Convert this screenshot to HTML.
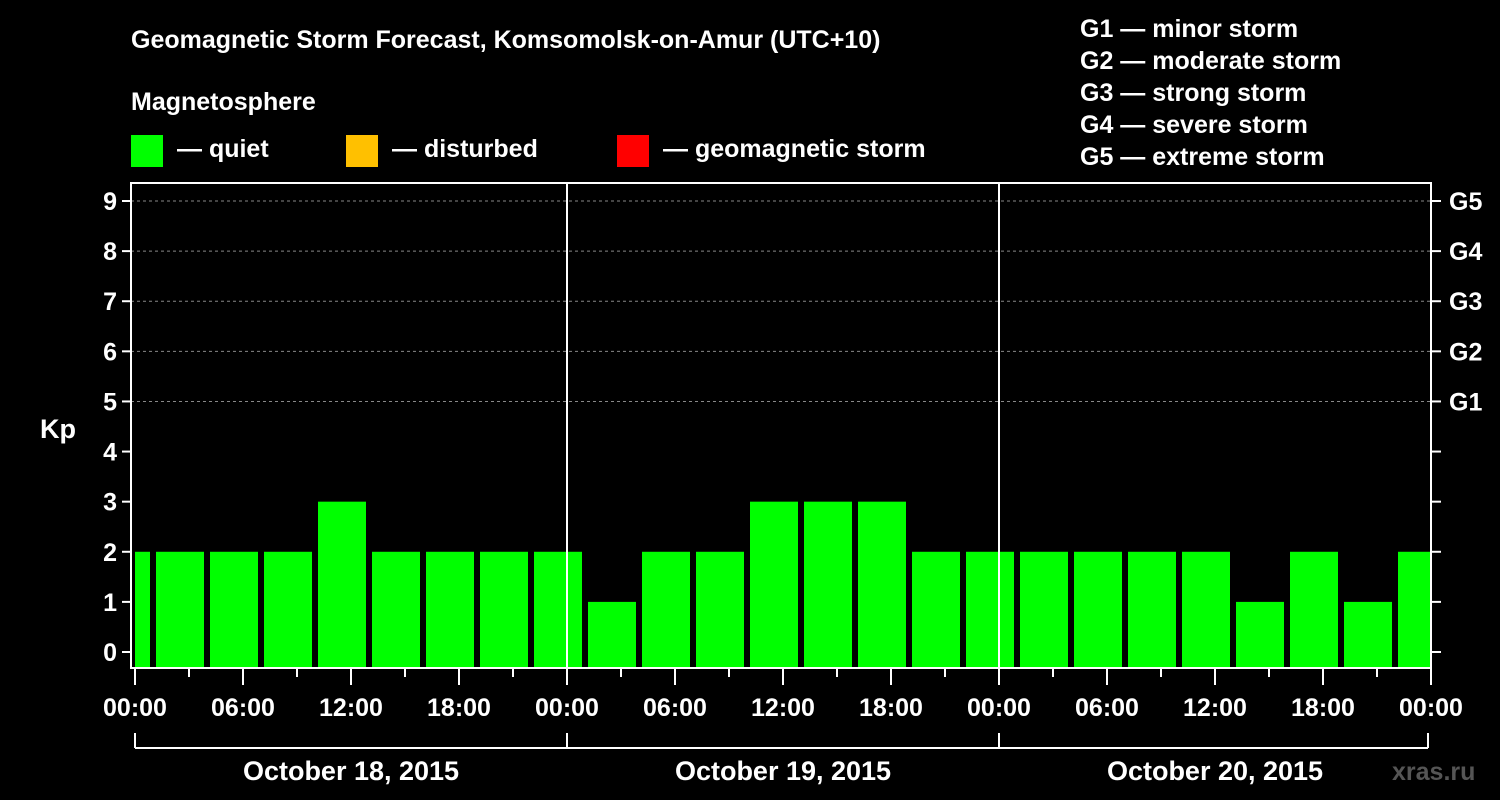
<!DOCTYPE html>
<html><head><meta charset="utf-8"><style>
body{margin:0;background:#000;}
svg{display:block;font-family:"Liberation Sans",Arial,sans-serif;font-weight:bold;}
</style></head><body>
<svg id="c" width="1500" height="800" viewBox="0 0 1500 800">
<rect width="1500" height="800" fill="#000"/>
<text x="131" y="48" fill="#fff" font-size="25">Geomagnetic Storm Forecast, Komsomolsk-on-Amur (UTC+10)</text>
<text x="131" y="110" fill="#fff" font-size="25">Magnetosphere</text>
<g>
<rect x="131" y="135" width="32" height="32" fill="#00ff00"/>
<text x="177" y="157" fill="#fff" font-size="25">— quiet</text>
<rect x="346" y="135" width="32" height="32" fill="#ffc000"/>
<text x="392" y="157" fill="#fff" font-size="25">— disturbed</text>
<rect x="617" y="135" width="32" height="32" fill="#ff0000"/>
<text x="663" y="157" fill="#fff" font-size="25">— geomagnetic storm</text>
</g>
<g fill="#fff" font-size="25">
<text x="1080" y="37">G1 — minor storm</text>
<text x="1080" y="69">G2 — moderate storm</text>
<text x="1080" y="101">G3 — strong storm</text>
<text x="1080" y="133">G4 — severe storm</text>
<text x="1080" y="165">G5 — extreme storm</text>
</g>
<text x="40" y="438" fill="#fff" font-size="27">Kp</text>
<text x="1392" y="780" fill="#555" font-size="25">xras.ru</text>
<g id="plot"></g>
</svg>
<script>
const kpValues=[2,2,2,2,3,2,2,2,2,1,2,2,3,3,3,2,2,2,2,2,2,1,2,1,2];
const yTicks=[0,1,2,3,4,5,6,7,8,9];
const gLabels=["G1","G2","G3","G4","G5"];
const xTickLabels=["00:00","06:00","12:00","18:00","00:00","06:00","12:00","18:00","00:00","06:00","12:00","18:00","00:00"];
const dayLabels=["October 18, 2015","October 19, 2015","October 20, 2015"];
const NS="http://www.w3.org/2000/svg";
const L=131,R=1431,T=183,B=668,X0=135,X1=1431;
const x=h=>X0+h*(X1-X0)/72;
const y=v=>652-v*(652-201)/9;
const plot=document.getElementById('plot');
function mk(t,a,p){const e=document.createElementNS(NS,t);for(const k in a)e.setAttribute(k,a[k]);(p||plot).appendChild(e);return e;}
// grid
for(const v of [5,6,7,8,9]){const e=mk('line',{x1:L,x2:R,y1:y(v),y2:y(v),stroke:'#888','stroke-dasharray':'3,3','stroke-width':1});

}
// bars
kpValues.forEach((v,k)=>{const c=-0.5+3*k;let a=Math.max(0,c-4/3),b=Math.min(72,c+4/3);
const r=mk('rect',{x:x(a),y:y(v),width:x(b)-x(a),height:B-y(v),fill:v>=5?'#ff0000':(v>=4?'#ffc000':'#00ff00')});

});
// day separators
for(const d of [1,2]){const e=mk('line',{x1:x(24*d),x2:x(24*d),y1:T,y2:B,stroke:'#fff','stroke-width':2});

}
// frame
const f=mk('rect',{x:L,y:T,width:R-L,height:B-T,fill:'none',stroke:'#fff','stroke-width':2});


// y ticks
yTicks.forEach(v=>{mk('line',{x1:L-9,x2:L,y1:y(v),y2:y(v),stroke:'#fff','stroke-width':2});
mk('line',{x1:R,x2:R+10,y1:y(v),y2:y(v),stroke:'#fff','stroke-width':2});
const t=mk('text',{x:L-14,y:y(v)+9,fill:'#fff','font-size':25,'text-anchor':'end'});t.textContent=v;

});
gLabels.forEach((g,i)=>{const t=mk('text',{x:R+18,y:y(5+i)+9,fill:'#fff','font-size':25});t.textContent=g;

});
// x ticks
for(let h=0;h<=72;h+=3){const major=h%6===0;mk('line',{x1:x(h),x2:x(h),y1:B,y2:B+(major?17:9),stroke:'#fff','stroke-width':2});}
xTickLabels.forEach((s,i)=>{const t=mk('text',{x:x(6*i),y:716,fill:'#fff','font-size':25,'text-anchor':'middle'});t.textContent=s;

});
// day bracket
mk('line',{x1:x(0),x2:x(72)-3,y1:748,y2:748,stroke:'#fff','stroke-width':2});
for(const d of [0,1,2,3])mk('line',{x1:x(24*d)-(d==3?3:0),x2:x(24*d)-(d==3?3:0),y1:733,y2:748,stroke:'#fff','stroke-width':2});
dayLabels.forEach((s,i)=>{const t=mk('text',{x:x(24*i+12),y:780,fill:'#fff','font-size':27,'text-anchor':'middle'});t.textContent=s;

});
</script>
</body></html>
